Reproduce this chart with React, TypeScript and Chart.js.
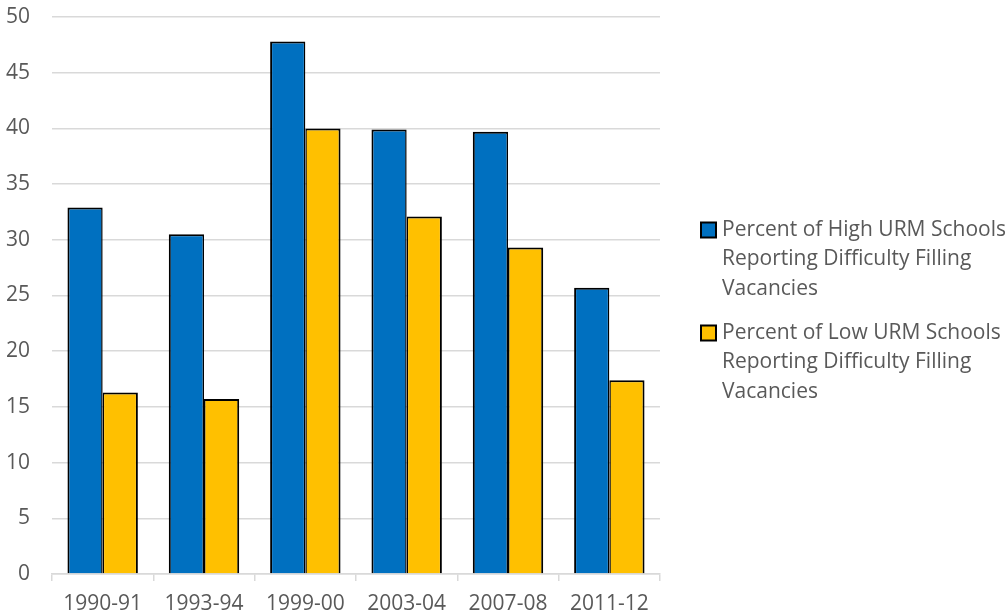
import React, { useEffect, useRef } from "react";
import { Chart, registerables } from "chart.js";

Chart.register(...registerables);

const categories = ["1990-91", "1993-94", "1999-00", "2003-04", "2007-08", "2011-12"];
const highURM = [32.9, 30.5, 47.8, 39.9, 39.7, 25.7];
const lowURM = [16.3, 15.7, 40.0, 32.1, 29.3, 17.4];
const seriesLabels = [
  ["Percent of High URM Schools", "Reporting Difficulty Filling", "Vacancies"],
  ["Percent of Low URM Schools", "Reporting Difficulty Filling", "Vacancies"],
];
const seriesColors = ["#0070C0", "#FFC000"];
const yTicks = [0, 5, 10, 15, 20, 25, 30, 35, 40, 45, 50];

const FONT = '"Open Sans", sans-serif';
const TEXT = "#595959";
const FS = 21;

const legendPlugin = {
  id: "customLegend",
  afterDraw(chart: any) {
    const ctx = chart.ctx;
    ctx.save();
    ctx.font = `${FS}px ${FONT}`;
    ctx.textBaseline = "middle";
    ctx.textAlign = "left";
    const boxX = 701;
    const textX = 722;
    const starts = [230, 333];
    const lh = 29.5;
    seriesLabels.forEach((lines, i) => {
      const y0 = starts[i];
      ctx.fillStyle = seriesColors[i];
      ctx.fillRect(boxX, y0 - 7.5, 15, 15);
      ctx.strokeStyle = "#000";
      ctx.lineWidth = 2;
      ctx.strokeRect(boxX, y0 - 7.5, 15, 15);
      ctx.fillStyle = TEXT;
      lines.forEach((l, j) => ctx.fillText(l, textX, y0 + j * lh));
    });
    ctx.restore();
  },
};

export default function App() {
  const ref = useRef<HTMLCanvasElement>(null);
  useEffect(() => {
    if (!ref.current) return;
    const chart = new Chart(ref.current, {
      type: "bar",
      data: {
        labels: categories,
        datasets: [
          {
            label: seriesLabels[0].join(" "),
            data: highURM,
            backgroundColor: seriesColors[0],
            borderColor: "#000",
            borderWidth: { top: 2, left: 2, right: 1.5, bottom: 0 },
            borderSkipped: false,
            inflateAmount: 0,
            categoryPercentage: 0.695,
            barPercentage: 1,
          },
          {
            label: seriesLabels[1].join(" "),
            data: lowURM,
            backgroundColor: seriesColors[1],
            borderColor: "#000",
            borderWidth: { top: 2, left: 1.5, right: 2, bottom: 0 },
            borderSkipped: false,
            inflateAmount: 0,
            categoryPercentage: 0.695,
            barPercentage: 1,
          },
        ],
      },
      options: {
        animation: false,
        responsive: false,
        maintainAspectRatio: false,
        layout: { padding: { left: 0, top: 17, right: 348, bottom: 0 } },
        plugins: {
          legend: { display: false },
          tooltip: { enabled: false },
          title: { display: false },
        },
        scales: {
          x: {
            grid: {
              display: true,
              drawOnChartArea: false,
              drawTicks: true,
              tickLength: 7,
              color: "#d9d9d9",
              lineWidth: 1.5,
              offset: true,
            },
            border: { display: true, color: "#d9d9d9", width: 1.5 },
            ticks: {
              color: TEXT,
              font: { family: FONT, size: FS },
              padding: 10,
              maxRotation: 0,
              autoSkip: false,
            },
            afterFit(scale: any) {
              scale.height = 41;
              scale.paddingLeft = 0;
              scale.paddingRight = 0;
            },
          },
          y: {
            min: 0,
            max: 50,
            afterBuildTicks(scale: any) {
              scale.ticks = yTicks.map((v) => ({ value: v }));
            },
            grid: {
              color: "#d9d9d9",
              lineWidth: 1.5,
              drawTicks: false,
            },
            border: { display: false },
            ticks: {
              color: TEXT,
              font: { family: FONT, size: FS },
              padding: 22,
            },
            afterFit(scale: any) {
              scale.width = 52;
              scale.paddingTop = 0;
              scale.paddingBottom = 0;
            },
          },
        },
      },
      plugins: [legendPlugin],
    });
    return () => chart.destroy();
  }, []);
  return (
    <div style={{ position: "fixed", left: 0, top: 0, width: 1008, height: 615, background: "#fff" }}>
      <canvas ref={ref} width={1008} height={615} style={{ width: 1008, height: 615, display: "block" }} />
    </div>
  );
}
